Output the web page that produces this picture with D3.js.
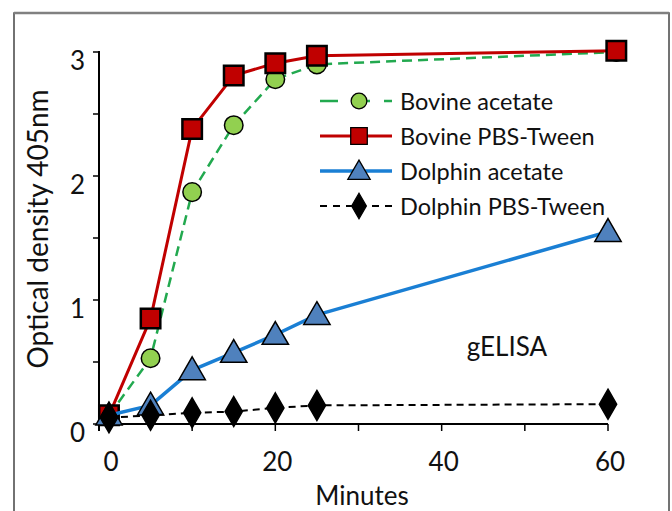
<!DOCTYPE html>
<html>
<head>
<meta charset="utf-8">
<script src="https://cdn.jsdelivr.net/npm/d3@7"></script>
<style>
  body { margin: 0; background: #fff; }
  text { font-family: Lato, "Open Sans", sans-serif; fill: #111; }
</style>
</head>
<body>
<svg id="Target" width="672" height="511"></svg>
<script>
// Data
const minutes = [0, 5, 10, 15, 20, 25, 60];
const bovineMinutes = [0, 5, 10, 15, 20, 25, 61];
const bovineAcetate = [0.07, 0.53, 1.87, 2.41, 2.78, 2.90, 3.00];
const bovinePBS = [0.07, 0.85, 2.38, 2.81, 2.91, 2.97, 3.01];
const dolphinAcetate = [0.07, 0.15, 0.435, 0.575, 0.72, 0.88, 1.55];
const dolphinPBS = [0.05, 0.07, 0.09, 0.10, 0.13, 0.15, 0.16];
const seriesNames = ["Bovine acetate", "Bovine PBS-Tween", "Dolphin acetate", "Dolphin PBS-Tween"];
const xTickLabels = [0, 20, 40, 60];
const yTickLabels = [0, 1, 2, 3];

const svg = d3.select("#Target");

// Frame around the figure
svg.append("rect")
  .attr("x", 14).attr("y", 13)
  .attr("width", 655).attr("height", 520)
  .attr("fill", "none")
  .attr("stroke", "#444")
  .attr("stroke-width", 1.5);
svg.append("line")
  .attr("x1", 14).attr("x2", 669).attr("y1", 13).attr("y2", 13)
  .attr("stroke", "#808080").attr("stroke-width", 2.5);

// Scales
const x = d3.scaleLinear().domain([-1.2, 60]).range([99, 608]);
const y = d3.scaleLinear().domain([0, 3]).range([424, 52]);

// Axes
svg.append("line")
  .attr("x1", x(-1.2)).attr("x2", x(-1.2))
  .attr("y1", y(3) - 1).attr("y2", y(0) + 7)
  .attr("stroke", "#000").attr("stroke-width", 2);
svg.append("line")
  .attr("x1", x(-1.2)).attr("x2", x(60))
  .attr("y1", y(0)).attr("y2", y(0))
  .attr("stroke", "#000").attr("stroke-width", 2);

// y ticks every 0.5
svg.selectAll("line.ytick")
  .data(d3.range(0, 3.01, 0.5))
  .enter()
  .append("line")
  .attr("class", "ytick")
  .attr("x1", x(-1.2) - 6).attr("x2", x(-1.2))
  .attr("y1", d => y(d)).attr("y2", d => y(d))
  .attr("stroke", "#000").attr("stroke-width", 1.5);

svg.selectAll("text.ylabel")
  .data(yTickLabels)
  .enter()
  .append("text")
  .attr("class", "ylabel")
  .attr("x", 85)
  .attr("y", d => y(d) + 8)
  .attr("text-anchor", "end")
  .attr("dominant-baseline", "central")
  .attr("font-size", 26)
  .text(d => d);

// x ticks every 10
svg.selectAll("line.xtick")
  .data(d3.range(10, 61, 10))
  .enter()
  .append("line")
  .attr("class", "xtick")
  .attr("x1", d => x(d)).attr("x2", d => x(d))
  .attr("y1", y(0)).attr("y2", y(0) + 7)
  .attr("stroke", "#000").attr("stroke-width", 1.5);

svg.selectAll("text.xlabel")
  .data(xTickLabels)
  .enter()
  .append("text")
  .attr("class", "xlabel")
  .attr("x", d => x(d) + 2)
  .attr("y", 461)
  .attr("text-anchor", "middle")
  .attr("dominant-baseline", "central")
  .attr("font-size", 26)
  .text(d => d);

// Axis titles
svg.append("text")
  .attr("x", 362).attr("y", 495)
  .attr("text-anchor", "middle")
  .attr("dominant-baseline", "central")
  .attr("font-size", 26)
  .text("Minutes");

svg.append("text")
  .attr("transform", "translate(37, 229) rotate(-90)")
  .attr("text-anchor", "middle")
  .attr("dominant-baseline", "central")
  .attr("font-size", 28)
  .text("Optical density 405nm");

svg.append("text")
  .attr("x", 507).attr("y", 346)
  .attr("text-anchor", "middle")
  .attr("dominant-baseline", "central")
  .attr("font-size", 26)
  .text("gELISA");

// Series definitions
const series = [
  { name: seriesNames[0], xs: bovineMinutes, ys: bovineAcetate, color: "#22a94f", width: 2.5, dash: "10,6", marker: "circle", fill: "#92d050" },
  { name: seriesNames[1], xs: bovineMinutes, ys: bovinePBS, color: "#c00000", width: 3, dash: null, marker: "square", fill: "#c00000" },
  { name: seriesNames[2], xs: minutes, ys: dolphinAcetate, color: "#1a7fd4", width: 3.5, dash: null, marker: "triangle", fill: "#4f81bd" },
  { name: seriesNames[3], xs: minutes, ys: dolphinPBS, color: "#000", width: 2, dash: "7,5", marker: "diamond", fill: "#000" }
];

const symbolFor = {
  circle: d3.symbol().type(d3.symbolCircle).size(270),
  square: d3.symbol().type(d3.symbolSquare).size(380),
  triangle: d3.symbol().type(d3.symbolTriangle).size(300),
  diamond: d3.symbol().type(d3.symbolDiamond).size(260)
};

const line = d3.line()
  .x(d => x(d[0]))
  .y(d => y(d[1]));

series.forEach(s => {
  const pts = s.xs.map((v, i) => [v, s.ys[i]]);
  svg.append("path")
    .datum(pts)
    .attr("d", line)
    .attr("fill", "none")
    .attr("stroke", s.color)
    .attr("stroke-width", s.width)
    .attr("stroke-linejoin", "round")
    .attr("stroke-dasharray", s.dash);

  svg.selectAll(null)
    .data(pts)
    .enter()
    .append("path")
    .attr("d", symbolFor[s.marker])
    .attr("transform", d => `translate(${x(d[0])},${y(d[1]) + (s.marker === "triangle" ? 2 : 0)})`)
    .attr("fill", s.fill)
    .attr("stroke", "#000")
    .attr("stroke-width", s.marker === "square" ? 2.5 : 1.5);
});

// Legend
const legend = svg.append("g");
const legendRow = d3.scaleLinear().domain([0, 3]).range([101, 206]);

series.forEach((s, i) => {
  const ly = legendRow(i);
  legend.append("line")
    .attr("x1", 320).attr("x2", 392)
    .attr("y1", ly).attr("y2", ly)
    .attr("stroke", s.color)
    .attr("stroke-width", s.width)
    .attr("stroke-dasharray", s.dash ? (i === 0 ? "18,14" : "7,6") : null);
  legend.append("path")
    .attr("d", symbolFor[s.marker])
    .attr("transform", `translate(359,${ly + (s.marker === "triangle" ? 2 : 0)}) scale(0.85)`)
    .attr("fill", s.fill)
    .attr("stroke", "#000")
    .attr("stroke-width", 1.5);
  legend.append("text")
    .attr("x", 400).attr("y", ly)
    .attr("dominant-baseline", "central")
    .attr("font-size", 23.5)
    .text(s.name);
});
</script>
</body>
</html>
